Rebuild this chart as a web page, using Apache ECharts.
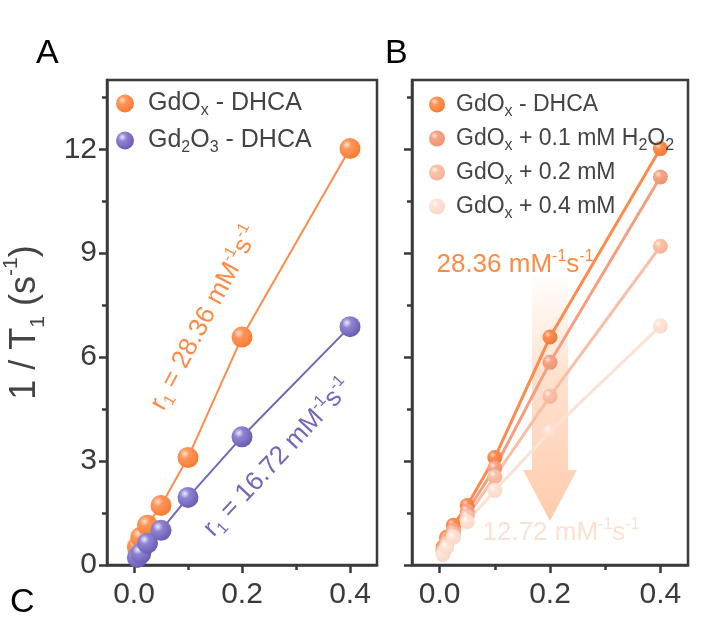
<!DOCTYPE html>
<html>
<head>
<meta charset="utf-8">
<script src="https://cdn.jsdelivr.net/npm/echarts@6/dist/echarts.min.js"></script>
<style>
  html, body { margin: 0; padding: 0; background: #fff; }
  #main { width: 704px; height: 618px; }
</style>
</head>
<body>
<div id="main"></div>
<script>
// Gd concentration (mM)
const conc = [0.00625, 0.0125, 0.025, 0.05, 0.1, 0.2, 0.4];
// panel A, 1/T1 (s-1)
const gdoxDhca = [0.52, 0.8, 1.15, 1.72, 3.1, 6.58, 12.02];
const gd2o3Dhca = [0.22, 0.33, 0.63, 1.0, 1.95, 3.7, 6.88];
// panel B, GdOx with H2O2
const h2o2_01 = [0.45, 0.68, 1.0, 1.55, 2.8, 5.85, 11.2];
const h2o2_02 = [0.4, 0.6, 0.9, 1.4, 2.55, 4.87, 9.2];
const h2o2_04 = [0.3, 0.5, 0.8, 1.25, 2.15, 3.85, 6.9];

const xTicks = [0, 0.2, 0.4];
const xMinorTicks = [0.1, 0.3];
const yTicks = [0, 3, 6, 9, 12];
const yMinorTicks = [1.5, 4.5, 7.5, 10.5, 13.5];

const FONT = 'Liberation Sans';
const AX = '#3a3a3a';

const chart = echarts.init(document.getElementById('main'));

// 3d-looking ball
function ball(light, mid, dark) {
  return {
    type: 'radial', x: 0.35, y: 0.32, r: 0.75,
    colorStops: [
      { offset: 0, color: light },
      { offset: 0.3, color: mid },
      { offset: 1, color: dark }
    ]
  };
}
const pts = arr => conc.map((c, i) => [c, arr[i]]);

const legendNames = {
  'GdOx - DHCA': 'GdO{sub|x} - DHCA',
  'Gd2O3 - DHCA': 'Gd{sub|2}O{sub|3} - DHCA',
  'GdOx + 0.1 mM H2O2': 'GdO{sub|x} + 0.1 mM H{sub|2}O{sub|2}',
  'GdOx + 0.2 mM': 'GdO{sub|x} + 0.2 mM',
  'GdOx + 0.4 mM': 'GdO{sub|x} + 0.4 mM'
};
const richSub = {
  sub: { fontSize: 16, fontFamily: FONT, color: '#444', verticalAlign: 'bottom', lineHeight: 31 }
};

function xAxes(g) {
  return [
    {
      gridIndex: g, type: 'value', min: -0.05, max: 0.45,
      splitLine: { show: false },
      axisLine: { onZero: false, lineStyle: { color: AX, width: 2.5 } },
      axisTick: { customValues: xTicks, length: 8, lineStyle: { color: AX, width: 2.5 } },
      axisLabel: { customValues: xTicks, formatter: v => v.toFixed(1), fontSize: 30, fontFamily: FONT, color: '#3a3a3a', margin: 15 }
    },
    {
      gridIndex: g, type: 'value', min: -0.05, max: 0.45, position: 'bottom',
      splitLine: { show: false }, axisLine: { show: false, onZero: false }, axisLabel: { show: false },
      axisTick: { customValues: xMinorTicks, length: 5, lineStyle: { color: AX, width: 2.5 } }
    }
  ];
}
function yAxes(g, labels) {
  return [
    {
      gridIndex: g, type: 'value', min: 0, max: 14,
      splitLine: { show: false },
      axisLine: { onZero: false, lineStyle: { color: AX, width: 2.5 } },
      axisTick: { customValues: yTicks, length: 8, lineStyle: { color: AX, width: 2.5 } },
      axisLabel: { show: labels, customValues: yTicks, fontSize: 30, fontFamily: FONT, color: '#3a3a3a', margin: 10 },
      name: labels ? '1 / T{sub|1} (s{sup|-1})' : '',
      nameLocation: 'middle', nameRotate: 90, nameGap: 58,
      nameTextStyle: {
        fontSize: 36, fontFamily: FONT, color: '#444',
        rich: {
          sub: { fontSize: 21, fontFamily: FONT, color: '#444', verticalAlign: 'bottom', lineHeight: 48 },
          sup: { fontSize: 21, fontFamily: FONT, color: '#444', verticalAlign: 'top', lineHeight: 48 }
        }
      }
    },
    {
      gridIndex: g, type: 'value', min: 0, max: 14, position: 'left',
      splitLine: { show: false }, axisLine: { show: false, onZero: false }, axisLabel: { show: false },
      axisTick: { customValues: yMinorTicks, length: 5, lineStyle: { color: AX, width: 2.5 } }
    }
  ];
}

function series(name, data, xi, yi, color, fill, size, width) {
  return {
    name, type: 'line', data: pts(data), xAxisIndex: xi, yAxisIndex: yi,
    symbol: 'circle', symbolSize: size,
    lineStyle: { color, width },
    itemStyle: { color: fill },
    emphasis: { disabled: true }
  };
}

const orangeBall = ball('#ffe2cc', '#ff955a', '#f7792f');
const purpleBall = ball('#ecebff', '#8e84d2', '#6658b0');

const annot = (text, x, y, deg, color, size) => ({
  type: 'text', x, y, rotation: deg * Math.PI / 180, z: 10,
  style: {
    text, x: 0, y: 0, align: 'center', verticalAlign: 'middle',
    fill: color, fontSize: size, fontFamily: FONT, lineHeight: 32,
    rich: {
      sub: { fontSize: 16, fill: color, fontFamily: FONT, verticalAlign: 'bottom', lineHeight: 32 },
      sup: { fontSize: 16, fill: color, fontFamily: FONT, verticalAlign: 'top', lineHeight: 32 }
    }
  }
});

chart.setOption({
  animation: false,
  backgroundColor: '#fff',
  grid: [
    { left: 101, top: 80, width: 276, height: 485, show: true, borderColor: AX, borderWidth: 2.5 },
    { left: 412, top: 80, width: 276, height: 485, show: true, borderColor: AX, borderWidth: 2.5 }
  ],
  xAxis: [...xAxes(0), ...xAxes(1)],
  yAxis: [...yAxes(0, true), ...yAxes(1, false)],
  legend: [
    {
      left: 111, top: 83, orient: 'vertical', icon: 'circle',
      itemWidth: 18, itemHeight: 18, itemGap: 6,
      data: ['GdOx - DHCA', 'Gd2O3 - DHCA'],
      formatter: n => legendNames[n],
      textStyle: { fontSize: 25, fontFamily: FONT, color: '#444', lineHeight: 31, padding: [0, 0, 0, 9], rich: richSub }
    },
    {
      left: 424, top: 84, orient: 'vertical', icon: 'circle',
      itemWidth: 16, itemHeight: 16, itemGap: 3,
      data: ['GdOx - DHCA', 'GdOx + 0.1 mM H2O2', 'GdOx + 0.2 mM', 'GdOx + 0.4 mM'],
      formatter: n => legendNames[n],
      textStyle: { fontSize: 23, fontFamily: FONT, color: '#444', lineHeight: 31, padding: [0, 0, 0, 6], rich: richSub }
    }
  ],
  graphic: [
    { type: 'text', left: 36, top: 37, style: { text: 'A', fontSize: 34, fontFamily: FONT, fill: '#000' } },
    { type: 'text', left: 385, top: 37, style: { text: 'B', fontSize: 34, fontFamily: FONT, fill: '#000' } },
    { type: 'text', left: 10, top: 586, style: { text: 'C', fontSize: 34, fontFamily: FONT, fill: '#000' } },
    {
      type: 'polygon', z: 1,
      shape: { points: [[532, 276], [568, 276], [568, 470], [577, 470], [550, 521], [523, 470], [532, 470]] },
      style: {
        fill: {
          type: 'linear', x: 0, y: 0, x2: 0, y2: 1,
          colorStops: [
            { offset: 0, color: 'rgba(255,215,190,0.05)' },
            { offset: 0.4, color: 'rgba(255,205,175,0.6)' },
            { offset: 1, color: 'rgba(255,190,150,0.8)' }
          ]
        }
      }
    },
    annot('r{sub|1} = 28.36 mM{sup|-1}s{sup|-1}', 205, 318, 62, '#ff8a45', 26),
    annot('r{sub|1} = 16.72 mM{sup|-1}s{sup|-1}', 278, 458, 47, '#7466bd', 26),
    annot('28.36 mM{sup|-1}s{sup|-1}', 515, 265, 0, '#ff8a45', 26),
    annot('12.72 mM{sup|-1}s{sup|-1}', 561, 533, 0, '#fde0d0', 26)
  ],
  series: [
    series('GdOx - DHCA', gdoxDhca, 0, 0, '#ff8a4c', orangeBall, 21, 2),
    series('Gd2O3 - DHCA', gd2o3Dhca, 0, 0, '#7466bd', purpleBall, 21, 2),
    series('GdOx - DHCA', gdoxDhca, 2, 2, '#ff8a4c', ball('#ffd8c0', '#ff8d50', '#f47532'), 15, 3),
    series('GdOx + 0.1 mM H2O2', h2o2_01, 2, 2, '#f79e80', ball('#fde2d6', '#f7a488', '#ef9070'), 15, 3),
    series('GdOx + 0.2 mM', h2o2_02, 2, 2, '#f9bea4', ball('#fff0e8', '#fac2a8', '#f5b094'), 15, 3),
    series('GdOx + 0.4 mM', h2o2_04, 2, 2, '#fde1d3', ball('#fff8f4', '#fde3d5', '#fbd7c5'), 15, 3)
  ]
});
</script>
</body>
</html>
